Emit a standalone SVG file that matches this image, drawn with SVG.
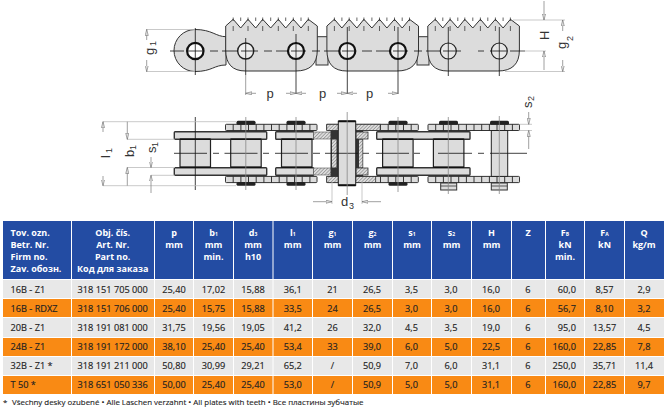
<svg xmlns="http://www.w3.org/2000/svg" xmlns:xlink="http://www.w3.org/1999/xlink" width="668" height="407" viewBox="0 0 668 407">
<style>
.pl{fill:#dcdcdc;stroke:#333;stroke-width:1}
.th{fill:none;stroke:#222;stroke-width:.7}
.cl{stroke:#111;stroke-width:.8;fill:none}
.gl{stroke:#888;stroke-width:.8;fill:none}
.ext{stroke:#bbb;stroke-width:.8;fill:none}
.dim{stroke:#888;stroke-width:.8;fill:none}
.arr{stroke:#888;stroke-width:.8;fill:none;marker-end:url(#a)}
.lb{font-family:"Liberation Sans",Arial,sans-serif;font-size:13px;fill:#333}
.ls{font-family:"Liberation Sans",Arial,sans-serif;font-size:9px;fill:#333}
.ip{fill:#dcdcdc;stroke:#333;stroke-width:1.4}
.ro{fill:#dcdcdc;stroke:#222;stroke-width:1.2}
.ra{stroke:#111;stroke-width:1.6;fill:none}
.cap{fill:#222}
.bx{fill:#dcdcdc;stroke:#333;stroke-width:1}
.h{font-family:"Open Sans",Arial,sans-serif;font-size:9px;font-weight:700;fill:#fff}
.m{text-anchor:middle}
.s{font-size:5px}
.d{font-family:"Open Sans",Arial,sans-serif;font-size:9.2px;fill:#222;stroke:#222;stroke-width:.15;text-anchor:middle}
.l{text-anchor:start}
.e{text-anchor:end}
.f{font-family:"Open Sans",Arial,sans-serif;font-size:7.9px;fill:#222;stroke:#222;stroke-width:.12}
</style>
<defs>
<marker id="a" markerWidth="7" markerHeight="4" refX="6" refY="2" orient="auto" markerUnits="userSpaceOnUse"><path d="M0,.4 L6,2 L0,3.6 Z" fill="#ddd" stroke="#666" stroke-width=".5"/></marker>
<pattern id="hatch" width="2.4" height="2.4" patternUnits="userSpaceOnUse" patternTransform="rotate(-45)"><rect width="2.4" height="2.4" fill="#ddd"/><line x1="0" y1="0" x2="2.4" y2="0" stroke="#555" stroke-width=".8"/></pattern>
<g id="plate">
<path class="pl" d="M0,26 L7.5,19.3 L15,28 L22.3,19.3 L30,28 L37,19.3 L45,28 L52.6,19.3 L60,28 L67.6,19.3 L75.3,28 L82.6,19.3 L91.6,26 L91.6,50 Q91.6,71 70,71 L20,71 Q0,71 0,50 Z"/>
<path class="th" d="M7.5,17.5V21M15,17.5V21M22.3,17.5V21M30,17.5V21M37,17.5V21M45,17.5V21M52.6,17.5V21M60,17.5V21M67.6,17.5V21M75.3,17.5V21M82.6,17.5V21M7.5,26V31M22.3,26V31M37,26V31M52.6,26V31M67.6,26V31M82.6,26V31"/>
</g>
<g id="strip">
<rect class="pl" x="0" y="0" width="91.5" height="6.2" rx=".8" stroke-width="1.2"/>
<path d="M7.7,0V6.2M15.4,0V6.2M23,0V6.2M30.7,0V6.2M38.4,0V6.2M46,0V6.2M53.7,0V6.2M61.4,0V6.2M69,0V6.2M76.7,0V6.2M84.4,0V6.2" stroke="#222" stroke-width=".9" fill="none"/>
</g>
<g id="roller">
<rect class="ro" x="0" y="139.3" width="30.5" height="28"/>
<path class="ra" d="M0,139.3H30.5M0,167.3H30.5"/>
</g>
</defs>
<rect width="668" height="407" fill="#fff"/>

<g id="top-view">
<path class="pl" d="M226,36.7 C216,36.7 212,29.5 195,29.5 A21,21 0 0 0 195,71.5 C212,71.5 214,65 226,65 Z"/>
<rect class="pl" x="316" y="36.7" width="12" height="28.3"/>
<rect class="pl" x="417" y="36.7" width="12" height="28.3"/>
<use href="#plate" x="225.7"/>
<use href="#plate" x="326.9"/>
<use href="#plate" x="427.8"/>
<circle cx="195.3" cy="51" r="8.2" fill="#fff" stroke="#111" stroke-width="2.2"/>
<circle cx="245.7" cy="51" r="8" fill="#eee" stroke="#222" stroke-width="1.4"/>
<circle cx="296" cy="51" r="8" fill="#eee" stroke="#111" stroke-width="2.2"/>
<circle cx="347.3" cy="51" r="8" fill="#eee" stroke="#111" stroke-width="2.2"/>
<circle cx="398" cy="51" r="8" fill="#eee" stroke="#111" stroke-width="2.2"/>
<circle cx="448.3" cy="51" r="8" fill="#e8e8e8" stroke="#222" stroke-width="1.2"/>
<circle cx="499.3" cy="51" r="8" fill="#e8e8e8" stroke="#222" stroke-width="1.2"/>
<path class="cl" d="M170,51H184M187,51H204M210,51H218M222,51H238M241,51H258M264,51H272M276,51H288M291,51H306M312,51H320M324,51H339M342,51H356M362,51H372M376,51H390M393,51H408M414,51H422M426,51H440M443,51H461M478,51H484M490,51H507M510,51H525"/>
<path class="cl" d="M195.3,28V75M245.7,38V75M296,34V94M347.3,27V94M398,27V94M448.3,27V76M499.3,27V76"/>
<path class="gl" d="M245.7,75V95"/>
</g>

<g id="top-dimensions">
<path class="ext" d="M146,29.5H195M146,71.5H195M513,20H565M520,51H546M505,71.5H565"/>
<path class="arr" d="M146.7,40V29.5"/><path class="arr" d="M146.7,60V71.5"/>
<path class="arr" d="M544,1V20"/><path class="arr" d="M544,70V51"/>
<path class="arr" d="M562.7,31V20"/><path class="arr" d="M562.7,60V71.5"/>
<path class="arr" d="M256,93.3H245.7"/><path class="arr" d="M286,93.3H296"/>
<path class="arr" d="M306,93.3H296"/><path class="arr" d="M337,93.3H347.3"/>
<path class="arr" d="M357,93.3H347.3"/><path class="arr" d="M388,93.3H398"/>
<text class="lb" x="266.5" y="98">p</text><text class="lb" x="319" y="98">p</text><text class="lb" x="366" y="98">p</text>
<text class="lb" transform="translate(154,55) rotate(-90)">g</text><text class="ls" transform="translate(156,46) rotate(-90)">1</text>
<text class="lb" transform="translate(548.5,40) rotate(-90)" font-size="12">H</text>
<text class="lb" transform="translate(566,49) rotate(-90)">g</text><text class="ls" transform="translate(573,41) rotate(-90)">2</text>
</g>

<g id="side-view">
<use href="#strip" x="225.5" y="124.3"/>
<use href="#strip" x="326.8" y="124.3"/>
<use href="#strip" x="428" y="124.3"/>
<use href="#strip" x="225.5" y="176.4"/>
<use href="#strip" x="326.8" y="176.4"/>
<use href="#strip" x="428" y="176.4"/>
<rect x="326.7" y="124.3" width="11.6" height="6.2" fill="url(#hatch)" stroke="#333" stroke-width=".8"/>
<rect x="355.7" y="124.3" width="24.5" height="6.2" fill="url(#hatch)" stroke="#333" stroke-width=".8"/>
<rect x="326.7" y="176.4" width="11.6" height="6.2" fill="url(#hatch)" stroke="#333" stroke-width=".8"/>
<rect x="355.7" y="176.4" width="20" height="6.2" fill="url(#hatch)" stroke="#333" stroke-width=".8"/>
<rect class="cap" x="236.5" y="120.7" width="19" height="4" rx="1.5"/><rect class="cap" x="286.5" y="120.7" width="19" height="4" rx="1.5"/>
<rect class="cap" x="388.5" y="120.7" width="19" height="4" rx="1.5"/><rect class="cap" x="439" y="120.7" width="19" height="4" rx="1.5"/><rect class="cap" x="490" y="120.7" width="19" height="4" rx="1.5"/>
<rect class="cap" x="236.5" y="182" width="19" height="3.8" rx="1.5"/><rect class="cap" x="286.5" y="182" width="19" height="3.8" rx="1.5"/><rect class="cap" x="388.5" y="182" width="19" height="3.8" rx="1.5"/>
<rect class="bx" x="440.7" y="183" width="16" height="7"/><rect class="bx" x="491.3" y="183" width="16" height="7"/>
<path d="M440.7,186H456.7M491.3,186H507.3" stroke="#333" stroke-width=".8"/>
<rect class="ip" x="174.3" y="131.7" width="92.4" height="7.6" rx=".8"/><rect class="ip" x="174.3" y="167.7" width="92.4" height="7.6" rx=".8"/>
<rect class="ip" x="275.7" y="131.7" width="38" height="7.6" rx=".8"/><rect class="ip" x="275.7" y="167.7" width="38" height="7.6" rx=".8"/>
<rect class="ip" x="376.7" y="131.7" width="93.3" height="7.6" rx=".8"/><rect class="ip" x="376.7" y="167.7" width="93.3" height="7.6" rx=".8"/>
<use href="#roller" x="180"/><use href="#roller" x="230.7"/><use href="#roller" x="281.5"/><use href="#roller" x="382.6"/><use href="#roller" x="433.4"/>
<rect x="313.3" y="132" width="19" height="7" fill="url(#hatch)" stroke="#555" stroke-width=".6"/>
<rect x="313.3" y="168" width="19" height="7" fill="url(#hatch)" stroke="#555" stroke-width=".6"/>
<rect x="330.5" y="130.5" width="8" height="46" fill="#333"/>
<rect x="355.7" y="130.5" width="7.5" height="46" fill="#333"/>
<rect x="332" y="139.5" width="4.5" height="28" fill="url(#hatch)"/>
<rect x="359" y="139.5" width="3.5" height="28" fill="url(#hatch)"/>
<rect x="356" y="132" width="12" height="7" fill="url(#hatch)" stroke="#333" stroke-width=".8"/>
<rect x="356" y="168" width="12" height="7" fill="url(#hatch)" stroke="#333" stroke-width=".8"/>
<rect x="338.3" y="121.3" width="17.4" height="64" fill="#dcdcdc" stroke="#222" stroke-width="1"/>
<path d="M338.3,121.3H355.7M338.3,185.3H355.7" stroke="#111" stroke-width="2"/>
<rect x="491.3" y="130.5" width="16.4" height="45.9" fill="#dcdcdc" stroke="#222" stroke-width="1"/>
<path class="cl" d="M174,153.3H207M213,153.3H219M224.5,153.3H257.5M263,153.3H269M275,153.3H308M313,153.3H320M325,153.3H358M363,153.3H369M376,153.3H409M414,153.3H420M438,153.3H472M478,153.3H484M490,153.3H527"/>
<path class="cl" d="M195.3,117V190"/>
<path class="gl" d="M245.8,117V190M296,117V190M347.2,112V195M398,117V192M448.3,117V194M499.3,116V194"/>
</g>

<g id="side-dimensions">
<path class="ext" d="M103,121.7H236M103,185.7H236M127,139.3H175M127,167.5H175M151,175.3H175M332,182V204M362,182V204M520,124.3H532M520,130.5H532"/>
<path class="arr" d="M103,132V121.7"/><path class="arr" d="M103,176V185.7"/>
<path class="arr" d="M127.3,121.7V139.3"/><path class="arr" d="M127.3,185.7V167.5"/>
<path class="arr" d="M151,157V167.5"/><path class="arr" d="M151,193V175.3"/>
<path class="arr" d="M528.7,112V124.3"/><path class="arr" d="M528.7,149V130.5"/>
<path class="arr" d="M313,201.7H332"/><path class="arr" d="M381,201.7H362"/>
<text class="lb" transform="translate(110,158) rotate(-90)">l</text><text class="ls" transform="translate(112,153) rotate(-90)">1</text>
<text class="lb" transform="translate(133.5,157) rotate(-90)">b</text><text class="ls" transform="translate(135.5,150) rotate(-90)">1</text>
<text class="lb" transform="translate(155.5,153) rotate(-90)">s</text><text class="ls" transform="translate(157.5,147) rotate(-90)">1</text>
<text class="lb" transform="translate(532,108) rotate(-90)">s</text><text class="ls" transform="translate(534,101) rotate(-90)">2</text>
<text class="lb" x="341" y="206">d</text><text class="ls" x="349" y="209">3</text>
</g>

<g id="table">
<rect x="3" y="221" width="661" height="58" fill="#234ca3"/>
<rect x="3" y="280" width="661" height="18" fill="#e8e8e8"/>
<rect x="3" y="299" width="661" height="18" fill="#f98a14"/>
<rect x="3" y="318" width="661" height="19" fill="#e8e8e8"/>
<rect x="3" y="338" width="661" height="18" fill="#f98a14"/>
<rect x="3" y="357" width="661" height="18" fill="#e8e8e8"/>
<rect x="3" y="376" width="661" height="18" fill="#f98a14"/>
<path d="M71.5,221V394M154.5,221V394M193.5,221V394M233.5,221V394M273,221V394M312.5,221V394M352.5,221V394M392.5,221V394M431.5,221V394M471.5,221V394M511.5,221V394M545.5,221V394M584.5,221V394M624.5,221V394" stroke="#fff" stroke-width="1" fill="none"/>
<text class="h" x="10.5" y="235.5">Tov. ozn.</text><text class="h" x="10.5" y="247.5">Betr. Nr.</text><text class="h" x="10.5" y="259.5">Firm no.</text><text class="h" x="10.5" y="271.5">Zav. обозн.</text>
<text class="h m" x="112.7" y="235.5">Obj. čís.</text><text class="h m" x="112.7" y="247.5">Art. Nr.</text><text class="h m" x="112.7" y="259.5">Part no.</text><text class="h m" x="112.7" y="271.5">Код для заказа</text>
<text class="h m" x="174" y="235.5">p</text><text class="h m" x="174" y="247.5">mm</text>
<text class="h m" x="213.5" y="235.5">b<tspan class="s" dy=".8">1</tspan></text><text class="h m" x="213.5" y="248">mm</text><text class="h m" x="213.5" y="259.5">min.</text>
<text class="h m" x="253" y="235.5">d<tspan class="s" dy=".8">3</tspan></text><text class="h m" x="253" y="248">mm</text><text class="h m" x="253" y="259.5">h10</text>
<text class="h m" x="292.7" y="235.5">l<tspan class="s" dy=".8">1</tspan></text><text class="h m" x="292.7" y="248">mm</text>
<text class="h m" x="332.5" y="235.5">g<tspan class="s" dy=".8">1</tspan></text><text class="h m" x="332.5" y="248">mm</text>
<text class="h m" x="372.5" y="235.5">g<tspan class="s" dy=".8">2</tspan></text><text class="h m" x="372.5" y="248">mm</text>
<text class="h m" x="412" y="235.5">s<tspan class="s" dy=".8">1</tspan></text><text class="h m" x="412" y="248">mm</text>
<text class="h m" x="451.5" y="235.5">s<tspan class="s" dy=".8">2</tspan></text><text class="h m" x="451.5" y="248">mm</text>
<text class="h m" x="491.5" y="235.5">H</text><text class="h m" x="491.5" y="247.5">mm</text>
<text class="h m" x="528" y="235.5">Z</text>
<text class="h m" x="565" y="235.5">F<tspan class="s" dy=".8">B</tspan></text><text class="h m" x="565" y="248">kN</text><text class="h m" x="565" y="259.5">min.</text>
<text class="h m" x="604.5" y="235.5">F<tspan class="s" dy=".8">A</tspan></text><text class="h m" x="604.5" y="248">kN</text>
<text class="h m" x="644" y="235.5">Q</text><text class="h m" x="644" y="247.5">kg/m</text>

<g>
<text class="d l" x="10.5" y="293">16B - Z1</text><text class="d" x="112.7" y="293">318 151 705 000</text><text class="d" x="174" y="293">25,40</text><text class="d" x="213.5" y="293">17,02</text><text class="d" x="253" y="293">15,88</text><text class="d" x="292.7" y="293">36,1</text><text class="d" x="332.5" y="293">21</text><text class="d" x="372" y="293">26,5</text><text class="d" x="411.5" y="293">3,5</text><text class="d" x="451" y="293">3,0</text><text class="d" x="491" y="293">16,0</text><text class="d" x="528" y="293">6</text><text class="d e" x="576" y="293">60,0</text><text class="d" x="604.5" y="293">8,57</text><text class="d" x="644" y="293">2,9</text>
<text class="d l" x="10.5" y="311.5">16B - RDXZ</text><text class="d" x="112.7" y="311.5">318 151 706 000</text><text class="d" x="174" y="311.5">25,40</text><text class="d" x="213.5" y="311.5">15,75</text><text class="d" x="253" y="311.5">15,88</text><text class="d" x="292.7" y="311.5">33,5</text><text class="d" x="332.5" y="311.5">24</text><text class="d" x="372" y="311.5">26,5</text><text class="d" x="411.5" y="311.5">3,0</text><text class="d" x="451" y="311.5">3,0</text><text class="d" x="491" y="311.5">16,0</text><text class="d" x="528" y="311.5">6</text><text class="d e" x="576" y="311.5">56,7</text><text class="d" x="604.5" y="311.5">8,10</text><text class="d" x="644" y="311.5">3,2</text>
<text class="d l" x="10.5" y="331">20B - Z1</text><text class="d" x="112.7" y="331">318 191 081 000</text><text class="d" x="174" y="331">31,75</text><text class="d" x="213.5" y="331">19,56</text><text class="d" x="253" y="331">19,05</text><text class="d" x="292.7" y="331">41,2</text><text class="d" x="332.5" y="331">26</text><text class="d" x="372" y="331">32,0</text><text class="d" x="411.5" y="331">4,5</text><text class="d" x="451" y="331">3,5</text><text class="d" x="491" y="331">19,0</text><text class="d" x="528" y="331">6</text><text class="d e" x="576" y="331">95,0</text><text class="d" x="604.5" y="331">13,57</text><text class="d" x="644" y="331">4,5</text>
<text class="d l" x="10.5" y="350">24B - Z1</text><text class="d" x="112.7" y="350">318 191 172 000</text><text class="d" x="174" y="350">38,10</text><text class="d" x="213.5" y="350">25,40</text><text class="d" x="253" y="350">25,40</text><text class="d" x="292.7" y="350">53,4</text><text class="d" x="332.5" y="350">33</text><text class="d" x="372" y="350">39,0</text><text class="d" x="411.5" y="350">6,0</text><text class="d" x="451" y="350">5,0</text><text class="d" x="491" y="350">22,5</text><text class="d" x="528" y="350">6</text><text class="d e" x="576" y="350">160,0</text><text class="d" x="604.5" y="350">22,85</text><text class="d" x="644" y="350">7,8</text>
<text class="d l" x="10.5" y="369">32B - Z1 *</text><text class="d" x="112.7" y="369">318 191 211 000</text><text class="d" x="174" y="369">50,80</text><text class="d" x="213.5" y="369">30,99</text><text class="d" x="253" y="369">29,21</text><text class="d" x="292.7" y="369">65,2</text><text class="d" x="332.5" y="369">/</text><text class="d" x="372" y="369">50,9</text><text class="d" x="411.5" y="369">7,0</text><text class="d" x="451" y="369">6,0</text><text class="d" x="491" y="369">31,1</text><text class="d" x="528" y="369">6</text><text class="d e" x="576" y="369">250,0</text><text class="d" x="604.5" y="369">35,71</text><text class="d" x="644" y="369">11,4</text>
<text class="d l" x="10.5" y="388">T 50 *</text><text class="d" x="112.7" y="388">318 651 050 336</text><text class="d" x="174" y="388">50,00</text><text class="d" x="213.5" y="388">25,40</text><text class="d" x="253" y="388">25,40</text><text class="d" x="292.7" y="388">53,0</text><text class="d" x="332.5" y="388">/</text><text class="d" x="372" y="388">50,9</text><text class="d" x="411.5" y="388">5,0</text><text class="d" x="451" y="388">5,0</text><text class="d" x="491" y="388">31,1</text><text class="d" x="528" y="388">6</text><text class="d e" x="576" y="388">160,0</text><text class="d" x="604.5" y="388">22,85</text><text class="d" x="644" y="388">9,7</text>
</g>
<text class="f" x="3" y="405">*</text><text class="f" x="12" y="405">Všechny desky ozubené • Alle Laschen verzahnt • All plates with teeth • Все пластины зубчатые</text>
</g>
</svg>
